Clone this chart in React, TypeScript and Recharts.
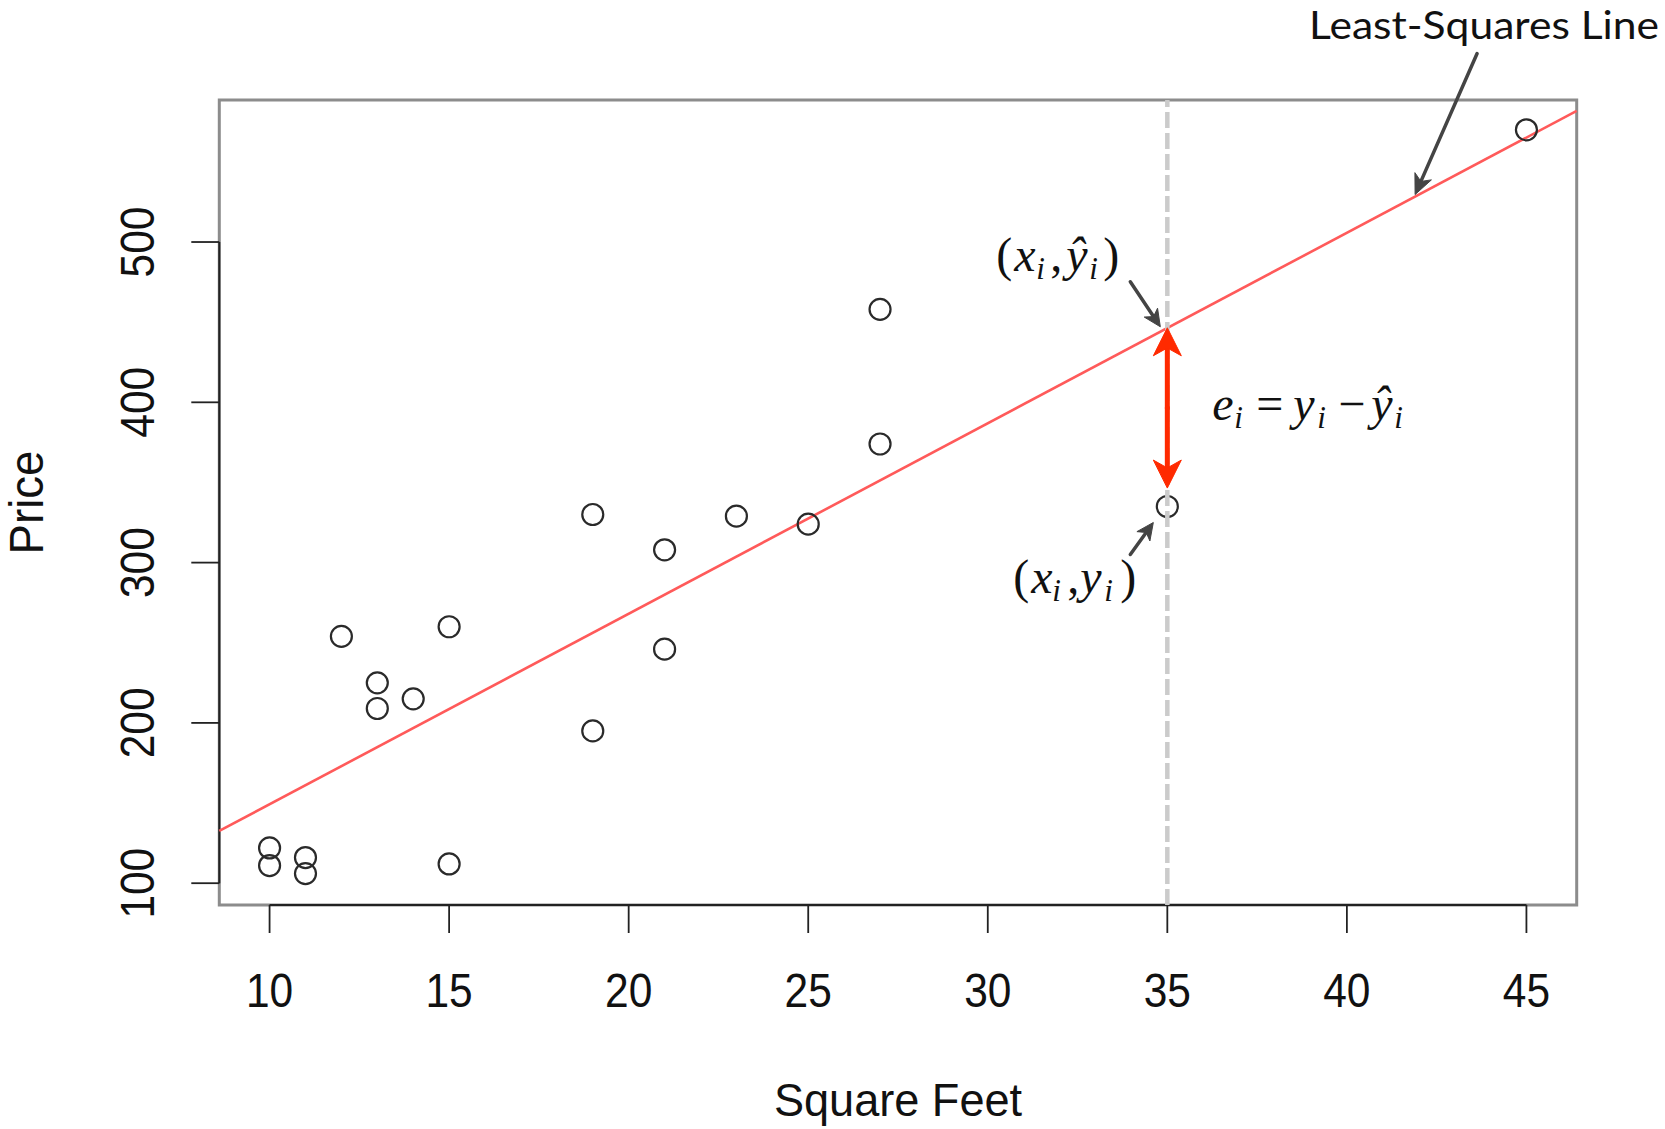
import React from 'react';
import {
  ScatterChart,
  Scatter,
  XAxis,
  YAxis,
  ReferenceLine,
  ReferenceArea,
  ReferenceDot,
} from 'recharts';

// ---------- data ----------
const squareFeet = [10, 10, 11, 11, 12, 13, 13, 14, 15, 15, 19, 19, 21, 21, 23, 25, 27, 27, 35, 45];
const price = [122, 111, 116, 106, 254, 225, 209, 215, 260, 112, 330, 195, 308, 246, 329, 324, 458, 374, 335, 570];

const xTicks = [10, 15, 20, 25, 30, 35, 40, 45];
const yTicks = [100, 200, 300, 400, 500];
const xDomain = [8.6, 46.4];
const yDomain = [86.4, 588.6];

// least-squares line, read at the two edges of the plot
const lineX = [8.6, 46.4];
const lineY = [132.6, 581.8];

// highlighted observation and its fitted value
const highlightX = 35;
const highlightY = 335;
const fittedY = 446.5;
const residualArrowEnd = 346.5;
const pointerOnLine = { x: 41.9, y: 529.6 };

const points = squareFeet.map((x, i) => ({ x, y: price[i] }));

// ---------- layout ----------
const W = 1665;
const H = 1129;
const PLOT_LEFT = 219.3;
const PLOT_RIGHT = 1576.7;
const PLOT_TOP = 100;
const PLOT_BOTTOM = 905;
const Y_AXIS_W = 80;
const X_AXIS_H = 100;

const SANS = "'Liberation Sans', Arial, Helvetica, sans-serif";
const SERIF = "'Liberation Serif', 'Times New Roman', Times, serif";

const XTick = (props: any) => {
  const { x, payload } = props;
  return (
    <text
      transform={`translate(${x},${PLOT_BOTTOM + 102}) scale(0.885,1)`}
      textAnchor="middle"
      fontFamily={SANS}
      fontSize={48}
      fill="#111"
    >
      {payload.value}
    </text>
  );
};

const YTick = (props: any) => {
  const { y, payload } = props;
  return (
    <text
      transform={`translate(${PLOT_LEFT - 65},${y}) rotate(-90) scale(0.885,1)`}
      textAnchor="middle"
      fontFamily={SANS}
      fontSize={48}
      fill="#111"
    >
      {payload.value}
    </text>
  );
};

const XTitle = () => (
  <text
    transform={`translate(${(PLOT_LEFT + PLOT_RIGHT) / 2},${PLOT_BOTTOM + 211}) scale(0.96,1)`}
    textAnchor="middle"
    fontFamily={SANS}
    fontSize={47}
    fill="#111"
  >
    Square Feet
  </text>
);

const YTitle = () => (
  <text
    transform={`translate(${42.5},${(PLOT_TOP + PLOT_BOTTOM) / 2}) rotate(-90) scale(0.95,1)`}
    textAnchor="middle"
    fontFamily={SANS}
    fontSize={48}
    fill="#111"
  >
    Price
  </text>
);

const OpenCircle = (p: any) => {
  const cx = p.cx ?? p.x + (p.width || 0) / 2;
  const cy = p.cy ?? p.y + (p.height || 0) / 2;
  return <circle cx={cx} cy={cy} r={10.5} fill="none" stroke="#2a2a2a" strokeWidth={2.2} />;
};

function arrowPath(
  x1: number,
  y1: number,
  x2: number,
  y2: number,
  color: string,
  width: number,
  headLen: number,
  headW: number,
  key?: string
) {
  const dx = x2 - x1;
  const dy = y2 - y1;
  const L = Math.hypot(dx, dy) || 1;
  const ux = dx / L;
  const uy = dy / L;
  const px = -uy;
  const py = ux;
  const bx = x2 - ux * headLen;
  const by = y2 - uy * headLen;
  const nx = x2 - ux * headLen * 0.72;
  const ny = y2 - uy * headLen * 0.72;
  return (
    <g key={key}>
      <line x1={x1} y1={y1} x2={nx} y2={ny} stroke={color} strokeWidth={width} strokeLinecap="round" />
      <polygon
        points={`${x2},${y2} ${bx + px * headW},${by + py * headW} ${nx},${ny} ${bx - px * headW},${by - py * headW}`}
        fill={color}
        stroke={color}
        strokeWidth={1}
        strokeLinejoin="round"
      />
    </g>
  );
}

const DoubleArrow = (p: any) => {
  const { x1, y1, x2, y2 } = p;
  const color = '#ff2a00';
  const mx = (x1 + x2) / 2;
  const my = (y1 + y2) / 2;
  return (
    <g>
      {arrowPath(mx, my, x1, y1, color, 5, 28, 14, 'a')}
      {arrowPath(mx, my, x2, y2, color, 5, 28, 14, 'b')}
    </g>
  );
};

type Piece = { t: string; dx: number; italic?: boolean; sub?: boolean };

function mathText(cx: number, baseY: number, pieces: Piece[]) {
  return pieces.map((p, i) => (
    <text
      key={i}
      x={cx + p.dx}
      y={baseY + (p.sub ? 8 : 0)}
      fontFamily={SERIF}
      fontStyle={p.italic ? 'italic' : 'normal'}
      fontSize={p.sub ? 31 : 48}
      fill="#111"
    >
      {p.t}
    </text>
  ));
}

const fittedPieces: Piece[] = [
  { t: '(', dx: -171 },
  { t: 'x', dx: -153, italic: true },
  { t: 'i', dx: -131, italic: true, sub: true },
  { t: ',', dx: -117 },
  { t: 'ŷ', dx: -101, italic: true },
  { t: 'i', dx: -78, italic: true, sub: true },
  { t: ')', dx: -64 },
];

const residualPieces: Piece[] = [
  { t: 'e', dx: 45, italic: true },
  { t: 'i', dx: 67, italic: true, sub: true },
  { t: '=', dx: 89 },
  { t: 'y', dx: 126, italic: true },
  { t: 'i', dx: 150, italic: true, sub: true },
  { t: '−', dx: 171 },
  { t: 'ŷ', dx: 204, italic: true },
  { t: 'i', dx: 227, italic: true, sub: true },
];

const observedPieces: Piece[] = [
  { t: '(', dx: -154 },
  { t: 'x', dx: -136, italic: true },
  { t: 'i', dx: -115, italic: true, sub: true },
  { t: ',', dx: -100 },
  { t: 'y', dx: -87, italic: true },
  { t: 'i', dx: -63, italic: true, sub: true },
  { t: ')', dx: -47 },
];

const FittedAnnotation = (p: any) => {
  const { cx, cy } = p;
  return (
    <g>
      {mathText(cx, cy - 57, fittedPieces)}
      {arrowPath(cx - 37, cy - 46, cx - 7, cy - 1, '#444', 3.5, 17, 8)}
      {mathText(cx, cy + 92.5, residualPieces)}
    </g>
  );
};

const ObservedAnnotation = (p: any) => {
  const { cx, cy } = p;
  return (
    <g>
      {mathText(cx, cy + 86.5, observedPieces)}
      {arrowPath(cx - 37, cy + 48, cx - 14, cy + 16, '#444', 3.5, 17, 8)}
    </g>
  );
};

const LineAnnotation = (p: any) => {
  const { cx, cy } = p;
  return (
    <g>
      <text
        x={cx - 106}
        y={cy - 156}
        fontFamily="Lato, 'Open Sans', sans-serif"
        fontSize={38}
        fill="#111"
        textLength={350}
        lengthAdjust="spacingAndGlyphs"
      >
        Least-Squares Line
      </text>
      {arrowPath(cx + 62, cy - 141, cx, cy, '#444', 3.5, 20, 9)}
    </g>
  );
};

export default function App() {
  return (
    <div style={{ position: 'absolute', left: 0, top: 0, width: W, height: H, background: '#fff' }}>
      <ScatterChart
        width={W}
        height={H}
        margin={{
          top: PLOT_TOP,
          right: W - PLOT_RIGHT,
          bottom: H - PLOT_BOTTOM - X_AXIS_H,
          left: PLOT_LEFT - Y_AXIS_W,
        }}
      >
        <XAxis
          type="number"
          dataKey="x"
          domain={xDomain}
          ticks={xTicks}
          allowDataOverflow
          axisLine={false}
          tickLine={{ stroke: '#222', strokeWidth: 1.8 }}
          tickSize={28}
          height={X_AXIS_H}
          tick={<XTick />}
          interval={0}
          label={<XTitle />}
        />
        <YAxis
          type="number"
          dataKey="y"
          domain={yDomain}
          ticks={yTicks}
          allowDataOverflow
          axisLine={false}
          tickLine={{ stroke: '#222', strokeWidth: 1.8 }}
          tickSize={28}
          width={Y_AXIS_W}
          tick={<YTick />}
          interval={0}
          label={<YTitle />}
        />
        <ReferenceArea
          x1={xDomain[0]}
          x2={xDomain[1]}
          y1={yDomain[0]}
          y2={yDomain[1]}
          fill="none"
          fillOpacity={0}
          stroke="#8c8c8c"
          strokeWidth={3}
          ifOverflow="visible"
          zIndex={100}
        />
        <ReferenceLine
          segment={[
            { x: xTicks[0], y: yDomain[0] },
            { x: xTicks[xTicks.length - 1], y: yDomain[0] },
          ]}
          stroke="#222"
          strokeWidth={2}
          ifOverflow="visible"
          zIndex={110}
        />
        <ReferenceLine
          segment={[
            { x: xDomain[0], y: yTicks[0] },
            { x: xDomain[0], y: yTicks[yTicks.length - 1] },
          ]}
          stroke="#222"
          strokeWidth={2}
          ifOverflow="visible"
          zIndex={110}
        />
        <ReferenceLine
          segment={[
            { x: lineX[0], y: lineY[0] },
            { x: lineX[1], y: lineY[1] },
          ]}
          stroke="#ff5a5a"
          strokeWidth={2.6}
          ifOverflow="visible"
          zIndex={300}
        />
        <Scatter data={points} shape={<OpenCircle />} isAnimationActive={false} zIndex={600} />
        <ReferenceLine
          x={highlightX}
          stroke="#cbcbcb"
          strokeWidth={4.5}
          strokeDasharray="16 5"
          ifOverflow="visible"
          zIndex={700}
        />
        <ReferenceLine
          segment={[
            { x: highlightX, y: fittedY },
            { x: highlightX, y: residualArrowEnd },
          ]}
          shape={<DoubleArrow />}
          ifOverflow="visible"
          zIndex={800}
        />
        <ReferenceDot
          x={highlightX}
          y={fittedY}
          r={0}
          shape={<FittedAnnotation />}
          ifOverflow="visible"
          zIndex={900}
        />
        <ReferenceDot
          x={highlightX}
          y={highlightY}
          r={0}
          shape={<ObservedAnnotation />}
          ifOverflow="visible"
          zIndex={900}
        />
        <ReferenceDot
          x={pointerOnLine.x}
          y={pointerOnLine.y}
          r={0}
          shape={<LineAnnotation />}
          ifOverflow="visible"
          zIndex={900}
        />
      </ScatterChart>
    </div>
  );
}
